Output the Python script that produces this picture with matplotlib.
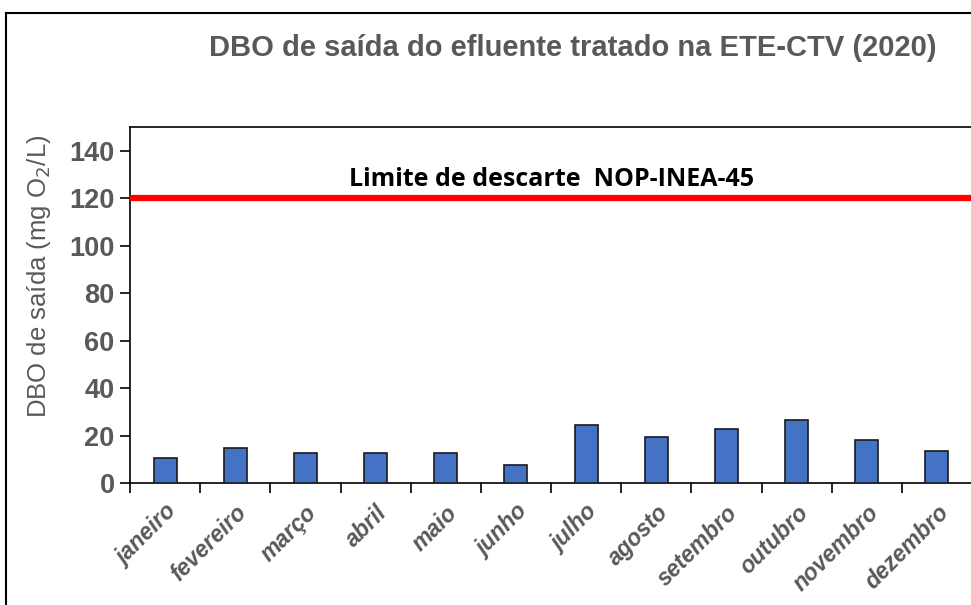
import matplotlib
matplotlib.use("Agg")
import matplotlib.pyplot as plt
from matplotlib.lines import Line2D
import numpy as np

meses = ['janeiro', 'fevereiro', 'março', 'abril', 'maio', 'junho',
         'julho', 'agosto', 'setembro', 'outubro', 'novembro', 'dezembro']
dbo_saida = [10.7, 14.8, 12.6, 12.6, 12.6, 7.4, 24.3, 19.3, 22.6, 26.7, 18.3, 13.3]
limite = 120
yticks = [0, 20, 40, 60, 80, 100, 120, 140]

gray = '#595959'

fig = plt.figure(figsize=(9.71, 6.05), dpi=100)
ax = fig.add_axes([130 / 971, 122 / 605, 842 / 971, 356 / 605])

x = np.arange(len(meses))
ax.bar(x, dbo_saida, width=0.33, color='#4472C4', edgecolor='#1a1a1a',
       linewidth=1.2, zorder=3)
ax.axhline(limite, color='#ff0000', linewidth=4.5, zorder=4)
ax.text(5.5, limite + 8, 'Limite de descarte  NOP-INEA-45', ha='center',
        va='center', fontsize=18, fontweight='bold', color='black',
        family='Open Sans')

ax.set_xlim(-0.5, len(meses) - 0.5)
ax.set_ylim(0, 150)
ax.set_yticks(yticks)
ax.set_yticklabels([str(v) for v in yticks], fontsize=19.5, fontweight='bold',
                   color=gray, family='Liberation Sans')
ax.tick_params(axis='y', direction='out', length=7, width=1.2, pad=4)

ax.set_xticks(x)
ax.set_xticklabels(meses, rotation=45, ha='right', rotation_mode='anchor',
                   fontsize=16.5, fontweight='bold', style='italic', color=gray,
                   family='Liberation Sans')
ax.tick_params(axis='x', which='major', length=0, pad=13)
ax.set_xticks(np.arange(-0.5, len(meses), 1), minor=True)
ax.tick_params(axis='x', which='minor', direction='out', length=7, width=1.2)

for s in ['left', 'top', 'bottom']:
    ax.spines[s].set_linewidth(1.2)
    ax.spines[s].set_color('black')
ax.spines['right'].set_visible(False)

ax.set_ylabel('DBO de saída (mg O$_2$/L)', fontsize=18.5, color=gray,
              family='Liberation Sans')
ax.yaxis.set_label_coords(-0.092, 0.58)

fig.text(573 / 971, 1 - 48 / 605,
         'DBO de saída do efluente tratado na ETE-CTV (2020)',
         ha='center', va='center', fontsize=21, fontweight='bold',
         color=gray, family='Liberation Sans')

# outer chart-area border (cut off right and bottom)
fig.add_artist(Line2D([6 / 971, 6 / 971], [0, 1 - 13 / 605],
                      transform=fig.transFigure, color='black', linewidth=1.5))
fig.add_artist(Line2D([6 / 971, 1], [1 - 13 / 605, 1 - 13 / 605],
                      transform=fig.transFigure, color='black', linewidth=1.5))

fig.savefig('out.png', dpi=100)
